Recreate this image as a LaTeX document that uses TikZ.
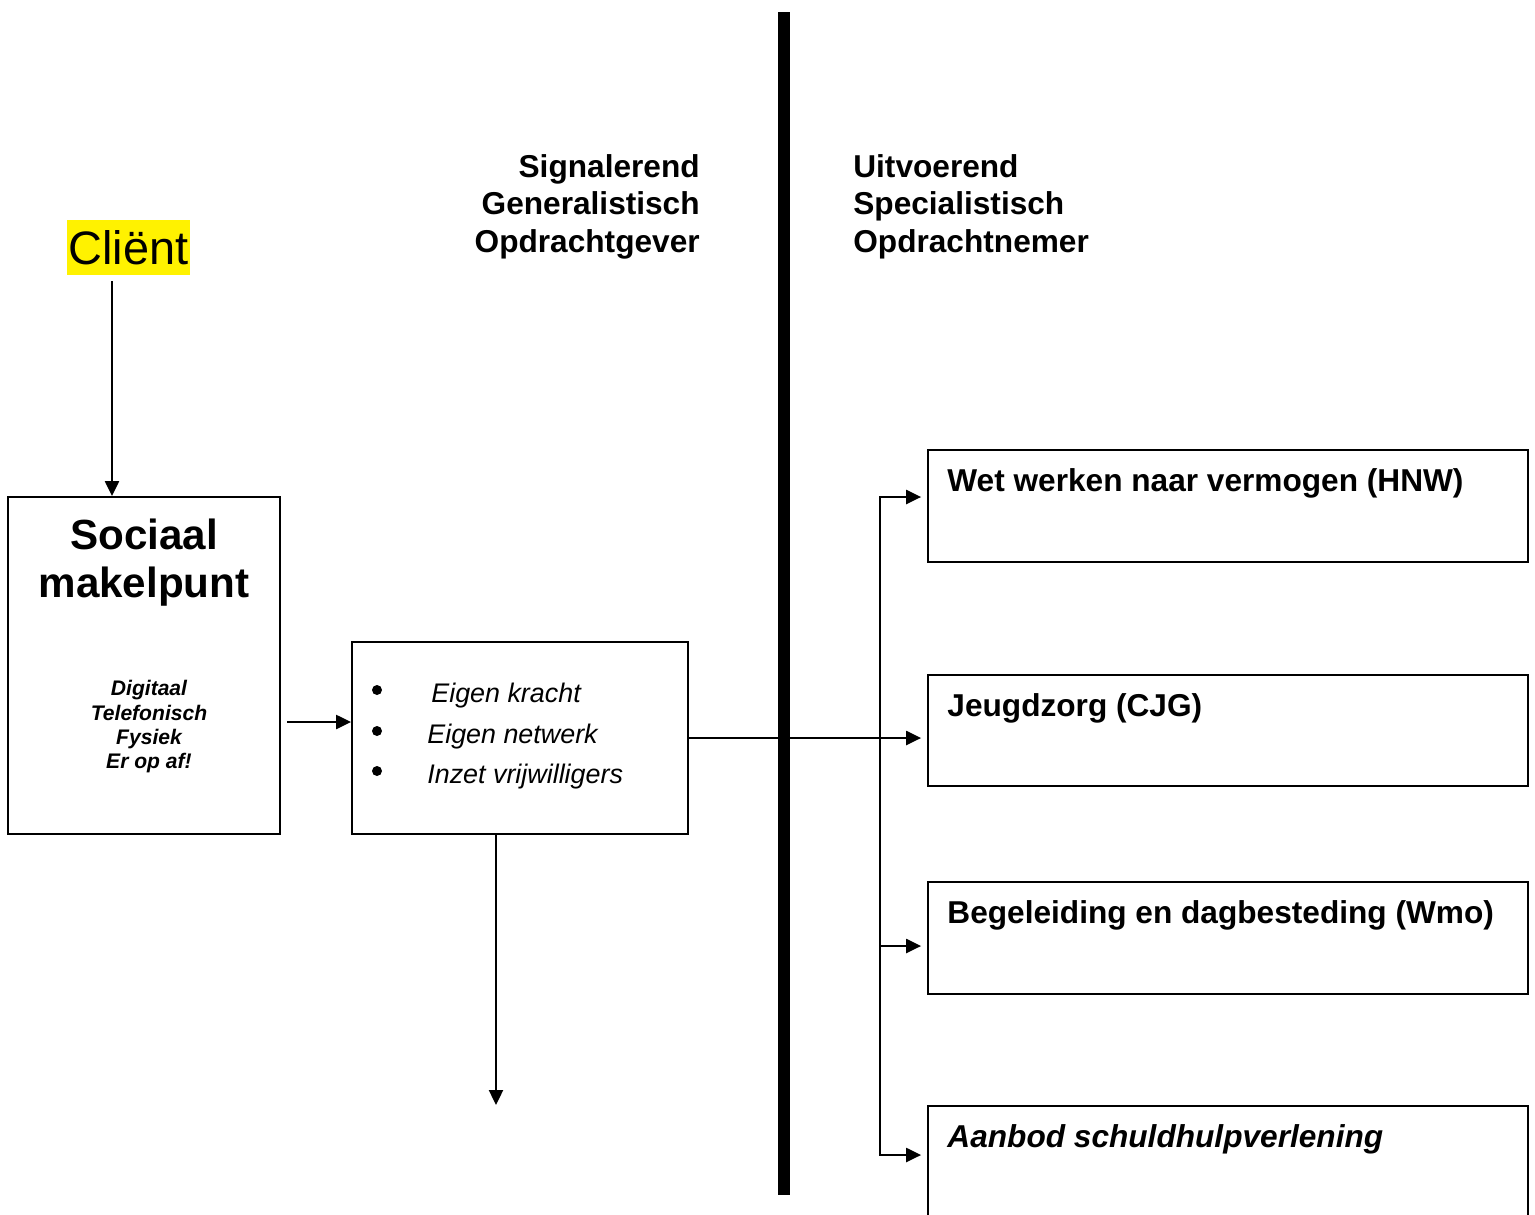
\documentclass[tikz,border=0pt]{standalone}
\usepackage{fontspec}
\setmainfont{Liberation Sans}
\usetikzlibrary{arrows.meta, positioning}

\begin{document}
\begin{tikzpicture}[
    x=0.02cm, y=-0.02cm,
    box/.style={
        draw, rectangle, line width=1.1pt, inner sep=0pt
    },
    head/.style={
        font=\fontsize{18}{21.3}\selectfont\bfseries, inner sep=0pt
    },
    title/.style={
        font=\fontsize{18}{21.3}\selectfont\bfseries, inner sep=0pt, anchor=north west
    },
    item/.style={
        font=\fontsize{15.3}{18}\selectfont\itshape, inner sep=0pt, anchor=base west
    },
    dot/.style={
        circle, fill, inner sep=0pt, minimum size=0.2cm
    },
    arrow/.style={line width=1.1pt, -{Triangle[length=8.5pt,width=8pt]}}
]
\useasboundingbox (0,0) rectangle (1535,1214);

% --- Column headings and the dividing bar
\node (hleft)  [head, align=right, anchor=north east] at (700,154) {Signalerend\\Generalistisch\\Opdrachtgever};
\node (hright) [head, align=left,  anchor=north west] at (853,154) {Uitvoerend\\Specialistisch\\Opdrachtnemer};
\draw [line width=6.8pt] (784,12) -- (784,1195);

% --- Client and the Sociaal makelpunt box
\node (client) [fill=yellow, font=\fontsize{26.7}{30}\selectfont,
                inner xsep=1pt, inner ysep=0pt, minimum height=1.1cm] at (128.5,247.5) {Cliënt};
\node (smp)    [box, minimum width=5.44cm, minimum height=6.74cm] at (144,665.5) {};
\node (smptitle) [font=\fontsize{24}{27.3}\selectfont\bfseries, align=center,
                  anchor=north, inner sep=0pt] at (144,519) {Sociaal\\makelpunt};
\node (channels) [font=\fontsize{12}{13.9}\selectfont\bfseries\itshape, align=center,
                  anchor=north, inner sep=0pt] at (149,680) {Digitaal\\Telefonisch\\Fysiek\\Er op af!};

% --- Middle box with own strength
\node (mid)  [box, minimum width=6.72cm, minimum height=3.84cm] at (520,738) {};
\node (dot1) [dot]  at (377,690) {};
\node (it1)  [item] at (431,702) {Eigen kracht};
\node (dot2) [dot]  at (377,731) {};
\node (it2)  [item] at (427,743) {Eigen netwerk};
\node (dot3) [dot]  at (377,771) {};
\node (it3)  [item] at (427,783) {Inzet vrijwilligers};

% --- Specialist boxes on the right
\node (b1) [box, minimum width=12cm, minimum height=2.24cm] at (1228,506) {};
\node (b2) [box, minimum width=12cm, minimum height=2.22cm] at (1228,730.5) {};
\node (b3) [box, minimum width=12cm, minimum height=2.24cm] at (1228,938) {};
\node (b4) [box, minimum width=12cm, minimum height=2.8cm]  at (1228,1176) {};
\node (t1) [title] at ([shift={(20,19)}]b1.north west) {Wet werken naar vermogen (HNW)};
\node (t2) [title] at ([shift={(20,19)}]b2.north west) {Jeugdzorg (CJG)};
\node (t3) [title] at ([shift={(20,19)}]b3.north west) {Begeleiding en dagbesteding (Wmo)};
\node (t4) [title, font=\fontsize{18}{21.3}\selectfont\bfseries\itshape]
           at ([shift={(20,19)}]b4.north west) {Aanbod schuldhulpverlening};

% --- Arrows
\coordinate (cdown) at (112,281);
\draw [arrow] (cdown) -- (cdown |- smp.north);
\coordinate (sout) at (287,722);
\draw [arrow] (sout) -- (sout -| mid.west);
\draw [arrow, shorten >=0.12cm] (mid.east) -- (mid.east -| b2.west);
\coordinate (mdown) at (496,1105);
\draw [arrow] (mdown |- mid.south) -- (mdown);

% --- Branch to the specialist boxes
\coordinate (jtop) at (880,497);
\coordinate (jmid) at (880,946);
\coordinate (jbot) at (880,1155);
\draw [arrow, shorten >=0.12cm] (jbot) |- (jtop -| b1.west);
\draw [arrow, shorten >=0.12cm] (jtop) |- (jbot -| b4.west);
\draw [arrow, shorten >=0.12cm] (jmid) -- (jmid -| b3.west);

\end{tikzpicture}
\end{document}
